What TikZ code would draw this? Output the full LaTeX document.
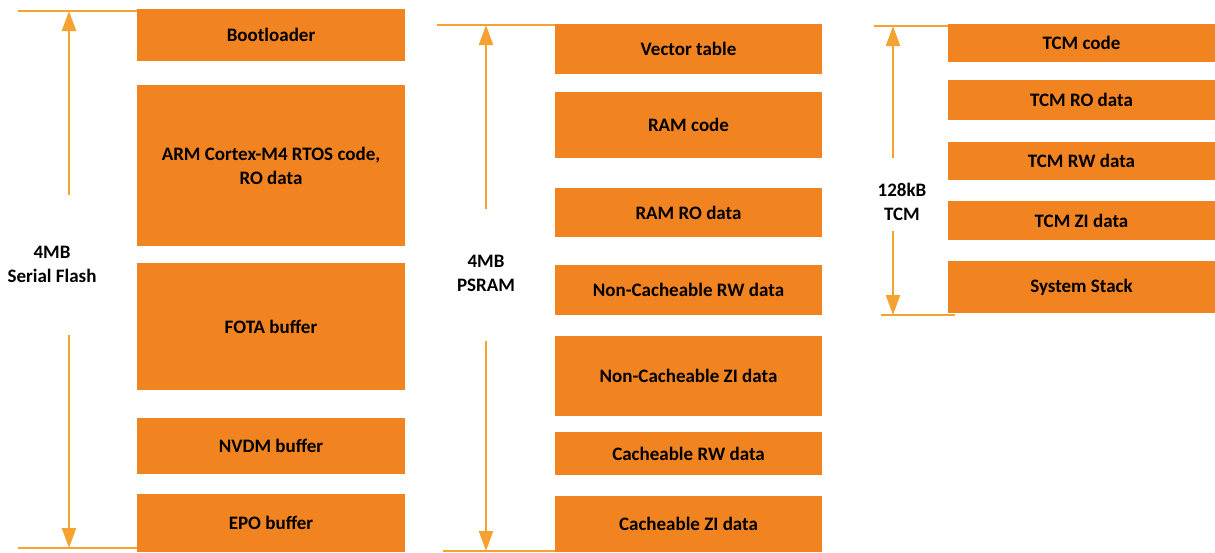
\documentclass[tikz,border=0pt]{standalone}
\usepackage{fontspec}
\setmainfont{Carlito}
\usepackage{tikz}
\usetikzlibrary{arrows.meta}
\definecolor{memorange}{RGB}{241,131,33}
\definecolor{extorange}{RGB}{245,162,48}
\tikzset{
	memfill/.style={fill=memorange},
	extline/.style={draw=extorange, line width=2pt},
	sizearrow/.style={draw=extorange, line width=2.4pt, -{Triangle[length=20pt,width=14pt]}},
	sizelabel/.style={inner sep=0pt},
	every node/.style={font=\fontsize{19}{24}\selectfont\bfseries, align=center},
}
\begin{document}
\begin{tikzpicture}[x=1pt, y=-1pt]
		\useasboundingbox (0,0) rectangle (1215,552);
		
		% serial flash
		\fill[memfill] (137, 9) rectangle node(boot){Bootloader} (405, 61);
		\fill[memfill] (137, 85) rectangle node(rtos){ARM Cortex-M4 RTOS code,\\RO data} (405, 246);
		\fill[memfill] (137, 263) rectangle node(fota){FOTA buffer} (405, 390);
		\fill[memfill] (137, 418) rectangle node(nvdm){NVDM buffer} (405, 474);
		\fill[memfill] (137, 494) rectangle node(epo){EPO buffer} (405, 552);
		
		\coordinate (flashtop) at (69, 11);
		\coordinate (flashbot) at (69, 548);
		\draw[extline] (18, 11) -- (flashtop) -- (137, 11);
		\draw[extline] (18, 548) -- (flashbot) -- (137, 548);
		\node[sizelabel] (flash) at (52, 264) {4MB\\Serial Flash};
		\draw[sizearrow, shorten <=51pt] (flashtop |- flash.north) -- (flashtop);
		\draw[sizearrow, shorten <=53pt] (flashbot |- flash.south) -- (flashbot);
		
		% psram
		\fill[memfill] (555, 24) rectangle node(vect){Vector table} (822, 74);
		\fill[memfill] (555, 92) rectangle node(ramcode){RAM code} (822, 158);
		\fill[memfill] (555, 188) rectangle node(ramro){RAM RO data} (822, 237);
		\fill[memfill] (555, 265) rectangle node(ncrw){Non-Cacheable RW data} (822, 315);
		\fill[memfill] (555, 336) rectangle node(nczi){Non-Cacheable ZI data} (822, 416);
		\fill[memfill] (555, 432) rectangle node(crw){Cacheable RW data} (822, 475);
		\fill[memfill] (555, 496) rectangle node(czi){Cacheable ZI data} (822, 552);
		
		\coordinate (psramtop) at (486, 25);
		\coordinate (psrambot) at (486, 551);
		\draw[extline] (437, 25) -- (psramtop) -- (555, 25);
		\draw[extline] (443, 551) -- (psrambot) -- (555, 551);
		\node[sizelabel] (psram) at (486, 273) {4MB\\PSRAM};
		\draw[sizearrow, shorten <=46pt] (psramtop |- psram.north) -- (psramtop);
		\draw[sizearrow, shorten <=50pt] (psrambot |- psram.south) -- (psrambot);
		
		% tcm
		\fill[memfill] (948, 24) rectangle node(tcmcode){TCM code} (1215, 62);
		\fill[memfill] (948, 80) rectangle node(tcmro){TCM RO data} (1215, 120);
		\fill[memfill] (948, 142) rectangle node(tcmrw){TCM RW data} (1215, 180);
		\fill[memfill] (948, 201) rectangle node(tcmzi){TCM ZI data} (1215, 240);
		\fill[memfill] (948, 261) rectangle node(stack){System Stack} (1215, 313);
		
		\coordinate (tcmtop) at (893, 26);
		\coordinate (tcmbot) at (893, 315);
		\draw[extline] (874, 26) -- (tcmtop) -- (948, 26);
		\draw[extline] (881, 315) -- (tcmbot) -- (955, 315);
		\node[sizelabel] (tcm) at (902, 202) {128kB\\TCM};
		\draw[sizearrow, shorten <=25pt] (tcmtop |- tcm.north) -- (tcmtop);
		\draw[sizearrow, shorten <=10pt] (tcmbot |- tcm.south) -- (tcmbot);
		
\end{tikzpicture}
\end{document}
